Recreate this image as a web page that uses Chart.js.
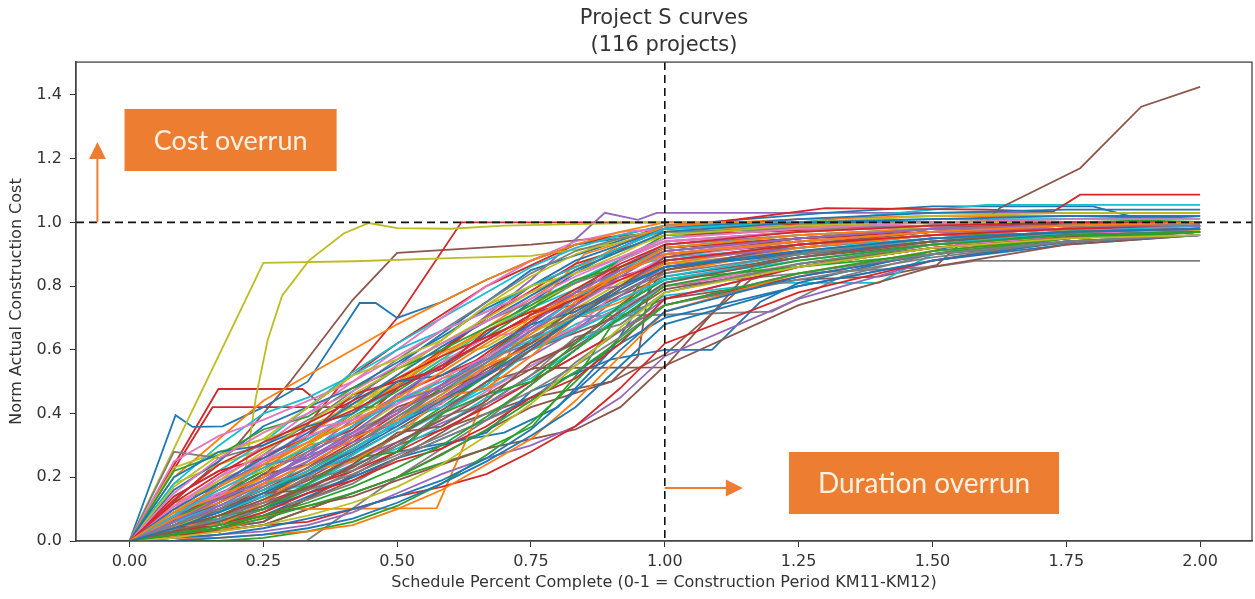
<!DOCTYPE html>
<html><head><meta charset="utf-8">
<script src="https://cdn.jsdelivr.net/npm/chart.js@4.4.1/dist/chart.umd.min.js"></script>
<style>html,body{margin:0;padding:0;background:#fff;overflow:hidden}canvas{display:block}</style>
</head><body>
<canvas id="c" width="1255" height="599"></canvas>
<script>
// ---- tick labels ----
const xTicks = [0, 0.25, 0.5, 0.75, 1.0, 1.25, 1.5, 1.75, 2.0];
const yTicks = [0, 0.2, 0.4, 0.6, 0.8, 1.0, 1.2, 1.4];

// ---- shared monthly schedule grid (fraction of construction period) ----
const gx = [0, 0.083, 0.167, 0.25, 0.333, 0.417, 0.5, 0.583, 0.667, 0.75, 0.833, 0.917, 1.0, 1.25, 1.5, 1.75, 2.0];

// ---- project curves on the shared grid (norm. actual construction cost) ----
const g01 = [0,.04,.09,.15,.21,.28,.36,.44,.52,.61,.70,.79,.86,.91,.95,.97,.98];
const g02 = [0,.09,.17,.24,.31,.37,.45,.53,.62,.70,.77,.84,.90,.94,.97,.99,1.00];
const g03 = [0,.02,.05,.08,.12,.17,.23,.30,.39,.49,.60,.70,.80,.88,.93,.96,.97];
const g04 = [0,.12,.21,.29,.35,.41,.48,.55,.63,.71,.79,.87,.93,.97,.99,1.00,1.00];
const g05 = [0,.06,.13,.19,.25,.33,.40,.49,.57,.66,.74,.83,.91,.95,.98,.99,.99];
const g06 = [0,.03,.06,.11,.17,.23,.31,.38,.46,.54,.63,.72,.81,.89,.94,.97,.98];
const g07 = [0,.15,.26,.34,.40,.47,.55,.62,.69,.76,.83,.89,.95,.98,1.00,1.01,1.01];
const g08 = [0,.05,.10,.17,.23,.30,.39,.47,.56,.64,.71,.78,.84,.90,.95,.97,.98];
const g09 = [0,.01,.03,.05,.08,.12,.17,.24,.33,.43,.55,.67,.78,.86,.92,.95,.96];
const g10 = [0,.08,.16,.23,.29,.36,.44,.50,.57,.63,.70,.76,.82,.88,.93,.97,.99];
const g11 = [0,.10,.18,.26,.34,.43,.52,.61,.69,.77,.85,.91,.97,1.00,1.01,1.02,1.02];
const g12 = [0,.07,.12,.18,.24,.32,.38,.46,.55,.65,.75,.84,.92,.96,.98,.99,1.00];
const g13 = [0,.02,.04,.07,.11,.15,.20,.27,.35,.44,.53,.63,.74,.84,.91,.95,.97];
const g14 = [0,.13,.24,.31,.37,.44,.51,.58,.64,.70,.76,.82,.88,.93,.96,.98,.99];
const g15 = [0,.05,.11,.18,.27,.36,.46,.55,.63,.71,.78,.85,.90,.94,.97,.98,.99];
const g16 = [0,.04,.08,.13,.19,.26,.33,.41,.50,.60,.70,.80,.89,.95,.98,1.00,1.00];
const g17 = [0,.11,.20,.27,.33,.38,.44,.51,.58,.66,.74,.82,.89,.94,.97,.98,.98];
const g18 = [0,.03,.07,.12,.16,.21,.27,.33,.40,.47,.55,.64,.74,.84,.90,.94,.96];
const g19 = [0,.09,.19,.28,.37,.46,.54,.62,.70,.78,.85,.91,.96,.99,1.00,1.00,1.00];
const g20 = [0,.06,.11,.16,.22,.29,.37,.46,.56,.66,.76,.85,.92,.96,.98,.99,1.00];
const g21 = [0,.20,.28,.30,.36,.40,.50,.52,.60,.68,.72,.80,.86,.90,.94,.96,.97];
const g22 = [0,.05,.05,.12,.22,.25,.33,.45,.48,.58,.70,.75,.84,.92,.96,.98,.99];
const g23 = [0,.02,.08,.10,.18,.26,.28,.40,.46,.50,.62,.74,.82,.86,.90,.95,.97];
const g24 = [0,.14,.22,.26,.33,.46,.50,.54,.66,.72,.74,.86,.92,.95,.97,.99,1.00];
const g25 = [0,.07,.18,.24,.26,.34,.44,.48,.56,.68,.78,.80,.88,.92,.96,.98,.98];
const g26 = [0,.03,.10,.15,.16,.24,.34,.36,.44,.56,.62,.74,.85,.93,.97,.99,1.00];
const g27 = [0,.11,.14,.25,.35,.38,.43,.56,.64,.66,.76,.88,.94,.97,.99,1.00,1.00];
const g28 = [0,.04,.07,.13,.20,.22,.30,.39,.43,.52,.64,.68,.78,.87,.93,.96,.97];
const g29 = [0,.17,.27,.32,.42,.52,.57,.63,.74,.80,.84,.90,.97,1.00,1.02,1.03,1.03];
const g30 = [0,.06,.09,.18,.21,.27,.38,.42,.49,.60,.66,.73,.83,.90,.95,.97,.98];
const g31 = [0,.01,.02,.04,.07,.10,.14,.19,.26,.35,.47,.60,.72,.83,.90,.94,.96];
const g32 = [0,.09,.14,.20,.30,.33,.40,.51,.55,.61,.72,.80,.87,.93,.96,.98,.99];
const g33 = [0,.22,.27,.35,.39,.48,.54,.60,.67,.74,.82,.86,.92,.95,.98,.99,1.00];
const g34 = [0,.03,.05,.09,.15,.19,.25,.29,.36,.45,.51,.62,.76,.86,.92,.95,.97];
const g35 = [0,.10,.13,.19,.27,.31,.36,.45,.53,.58,.66,.77,.86,.92,.96,.98,.99];
const g36 = [0,.05,.12,.21,.24,.32,.42,.47,.53,.63,.73,.78,.85,.91,.95,.97,.98];
const g37 = [0,.08,.15,.17,.25,.34,.37,.43,.55,.61,.67,.79,.90,.95,.98,.99,1.00];
const g38 = [0,.02,.06,.10,.13,.18,.26,.32,.38,.44,.56,.66,.74,.82,.89,.94,.96];
const g39 = [0,.12,.18,.22,.30,.39,.45,.48,.57,.66,.70,.79,.87,.93,.97,.99,1.00];
const g40 = [0,.04,.09,.14,.18,.24,.29,.36,.45,.51,.60,.71,.81,.89,.94,.97,.98];
const g41 = [0,0,.01,.02,.04,.07,.12,.18,.25,.33,.42,.55,.68,.80,.88,.94,.96];
const g42 = [0,.01,.01,.02,.03,.05,.10,.16,.24,.32,.44,.58,.72,.84,.91,.95,.97];
const g43 = [0,0,0,.01,.03,.06,.11,.18,.27,.37,.50,.64,.78,.87,.92,.95,.97];
const g44 = [0,.02,.03,.05,.06,.10,.14,.17,.21,.28,.36,.48,.62,.78,.88,.94,.96];
const g45 = [0,0,.02,.03,.05,.09,.15,.21,.26,.30,.36,.45,.58,.76,.88,.95,.97];
const g46 = [0,.03,.05,.08,.11,.14,.19,.24,.29,.32,.35,.42,.55,.74,.86,.93,.96];
const g47 = [0,.25,.33,.38,.44,.50,.58,.66,.72,.78,.84,.89,.94,.97,.99,1.00,1.00];
const g48 = [0,.28,.26,.30,.38,.45,.54,.62,.69,.75,.81,.86,.91,.95,.98,.99,1.00];
const g49 = [0,.23,.28,.32,.36,.42,.50,.58,.66,.74,.81,.86,.92,.96,.98,.99,.99];
const g50 = [0,.18,.30,.40,.45,.52,.60,.66,.72,.80,.86,.92,.98,1.00,1.01,1.01,1.01];
const g51 = [0,.16,.25,.36,.42,.48,.56,.64,.73,.80,.88,.93,.98,1.00,1.00,1.00,1.00];
const g52 = [0,.20,.32,.44,.52,.60,.68,.75,.82,.88,.93,.97,1.00,1.00,1.00,1.00,1.00];
const g53 = [0,.07,.14,.22,.30,.39,.47,.56,.64,.73,.81,.88,.94,.97,.99,1.00,1.01];
const g54 = [0,.05,.10,.16,.23,.31,.40,.49,.59,.69,.78,.86,.92,.95,.97,.98,.98];
const g55 = [0,.09,.15,.20,.26,.33,.41,.49,.58,.67,.76,.84,.91,.95,.97,.98,.99];
const g56 = [0,.03,.08,.14,.21,.29,.37,.45,.54,.62,.70,.77,.83,.89,.93,.96,.97];
const g57 = [0,.11,.19,.25,.31,.37,.43,.49,.55,.61,.67,.73,.80,.86,.92,.96,.98];
const g58 = [0,.06,.13,.21,.28,.34,.41,.47,.54,.62,.71,.80,.88,.93,.96,.98,.99];
const g59 = [0,.04,.10,.17,.25,.34,.43,.51,.58,.65,.73,.81,.87,.91,.94,.96,.97];
const g60 = [0,.08,.17,.25,.32,.40,.48,.57,.66,.73,.79,.85,.89,.92,.95,.97,.98];
const g61 = [0,.06,.12,.19,.27,.36,.45,.55,.65,.75,.84,.92,.98,1.01,1.03,1.04,1.04];
const g62 = [0,.10,.16,.23,.31,.40,.49,.58,.67,.76,.85,.93,.99,1.01,1.02,1.02,1.02];
const g63 = [0,.05,.09,.15,.22,.30,.39,.48,.58,.68,.78,.88,.96,.99,1.00,1.01,1.02];
const g64 = [0,.04,.08,.12,.17,.22,.28,.35,.42,.50,.58,.66,.74,.83,.90,.95,.97];
const g65 = [0,.07,.11,.16,.21,.26,.31,.37,.43,.50,.58,.66,.76,.86,.92,.96,.98];
const g66 = [0,.02,.04,.08,.13,.19,.26,.34,.43,.52,.61,.70,.79,.86,.92,.96,.98];
const g67 = [0,.10,.20,.30,.40,.50,.60,.70,.80,.88,.94,.97,.98,.99,1.00,1.00,1.00];
const g68 = [0,.08,.17,.27,.37,.47,.57,.66,.75,.84,.91,.95,.97,.98,.99,.99,.99];
const g69 = [0,.05,.12,.20,.30,.41,.52,.63,.74,.83,.90,.95,.98,.99,.99,1.00,1.00];
const g70 = [0,.14,.22,.31,.42,.53,.62,.70,.78,.86,.92,.96,.99,1.00,1.00,1.00,1.00];
const g71 = [0,.03,.06,.10,.15,.20,.26,.32,.38,.45,.53,.62,.70,.80,.88,.93,.96];
const g72 = [0,.06,.14,.24,.33,.43,.51,.59,.66,.72,.77,.82,.86,.90,.93,.95,.97];
const g73 = [0,.02,.05,.10,.16,.24,.33,.42,.52,.63,.74,.84,.91,.95,.97,.98,.99];
const g74 = [0,.09,.13,.21,.29,.35,.46,.52,.58,.69,.76,.83,.87,.90,.93,.96,.98];
const g75 = [0,.04,.11,.16,.23,.33,.37,.48,.57,.62,.75,.86,.93,.96,.98,.99,1.00];
const g76 = [0,.12,.17,.27,.32,.40,.49,.54,.63,.71,.76,.84,.90,.94,.97,.98,.99];
const g77 = [0,.07,.10,.14,.19,.25,.31,.38,.47,.55,.63,.72,.80,.87,.92,.95,.97];
const g78 = [0,.01,.04,.09,.15,.22,.30,.40,.50,.60,.71,.80,.88,.93,.96,.98,.99];
const g79 = [0,.18,.24,.29,.35,.43,.48,.57,.61,.69,.79,.85,.93,.96,.98,.99,.99];
const g80 = [0,.05,.07,.11,.18,.27,.35,.40,.49,.60,.68,.74,.82,.89,.94,.97,.98];

const gridSeries = [g01,g02,g03,g04,g05,g06,g07,g08,g09,g10,g11,g12,g13,g14,g15,g16,g17,g18,g19,g20,
  g21,g22,g23,g24,g25,g26,g27,g28,g29,g30,g31,g32,g33,g34,g35,g36,g37,g38,g39,g40,
  g41,g42,g43,g44,g45,g46,g47,g48,g49,g50,g51,g52,g53,g54,g55,g56,g57,g58,g59,g60,
  g61,g62,g63,g64,g65,g66,g67,g68,g69,g70,g71,g72,g73,g74,g75,g76,g77,g78,g79,g80];

// ---- projects with their own reporting dates: [schedule fraction, norm cost] ----
const sOliveA = [[0,0],[0.25,0.873],[0.42,0.878],[0.6,0.888],[0.75,0.895],[0.9,0.93],[1.0,0.97],[1.25,0.98],[1.5,0.98],[2.0,0.975]];
const sOliveB = [[0,0],[0.167,0.02],[0.21,0.15],[0.236,0.45],[0.258,0.63],[0.285,0.77],[0.335,0.88],[0.40,0.965],[0.447,0.998],[0.5,0.982],[0.6,0.98],[0.7,0.99],[1.0,1.0],[1.5,1.0],[2.0,1.0]];
const sBlueSpike = [[0,0],[0.086,0.395],[0.118,0.358],[0.174,0.36],[0.25,0.42],[0.333,0.5],[0.43,0.747],[0.46,0.747],[0.5,0.7],[0.583,0.75],[0.667,0.82],[0.75,0.88],[0.833,0.93],[1.0,0.97],[1.5,0.99],[2.0,0.99]];
const sRed48 = [[0,0],[0.166,0.477],[0.323,0.477],[0.35,0.44],[0.5,0.62],[0.667,0.8],[0.833,0.93],[1.0,0.99],[1.5,1.0],[2.0,1.0]];
const sRed42 = [[0,0],[0.155,0.42],[0.46,0.42],[0.55,0.55],[0.667,0.7],[0.833,0.87],[1.0,0.96],[1.5,0.99],[2.0,1.0]];
const sOrangeFlat = [[0,0],[0.167,0.03],[0.3,0.1],[0.574,0.103],[0.648,0.39],[0.75,0.72],[0.85,0.9],[1.0,0.98],[1.5,0.99],[2.0,0.99]];
const sBrownFlat = [[0,0],[0.25,0.06],[0.5,0.28],[0.6,0.42],[0.667,0.5],[0.76,0.543],[1.0,0.545],[1.17,0.87],[1.25,0.9],[1.5,0.94],[2.0,0.97]];
const sBlueFlat = [[0,0],[0.25,0.08],[0.5,0.26],[0.667,0.34],[0.75,0.47],[0.9,0.57],[1.0,0.6],[1.088,0.6],[1.178,0.75],[1.25,0.81],[1.4,0.87],[1.6,0.95],[2.0,1.0]];
const sGrayFlat = [[0,0],[0.25,0.14],[0.5,0.38],[0.667,0.58],[0.75,0.64],[0.83,0.705],[1.0,0.71],[1.2,0.72],[1.33,0.83],[1.5,0.9],[2.0,0.97]];
const sBrownLate = [[0,0],[0.25,0.05],[0.5,0.2],[0.75,0.42],[0.9,0.5],[1.0,0.585],[1.16,0.82],[1.25,0.86],[1.5,0.93],[2.0,0.98]];
const sGrayLow = [[0,0],[0.25,0.12],[0.5,0.37],[0.75,0.6],[1.0,0.80],[1.25,0.84],[1.5,0.86],[1.58,0.879],[2.0,0.879]];
const sCyanLow = [[0,0],[0.25,0.1],[0.5,0.33],[0.75,0.55],[0.9,0.68],[1.0,0.77],[1.2,0.81],[1.4,0.81],[1.5,0.9],[1.75,0.97],[2.0,0.98]];
const sBrownOver = [[0,0],[0.25,0.12],[0.5,0.35],[0.75,0.6],[1.0,0.76],[1.25,0.82],[1.4,0.83],[1.508,0.866],[1.626,1.045],[1.776,1.17],[1.89,1.363],[2.0,1.425]];
const sRedHigh = [[0,0],[0.25,0.2],[0.5,0.5],[0.75,0.8],[1.0,0.98],[1.3,1.045],[1.6,1.04],[1.725,1.033],[1.776,1.087],[2.0,1.087]];
const sCyanHigh = [[0,0],[0.25,0.15],[0.5,0.45],[0.75,0.75],[1.0,0.95],[1.25,1.0],[1.5,1.04],[1.6,1.055],[2.0,1.055]];
const sBlueHigh = [[0,0],[0.25,0.22],[0.5,0.55],[0.75,0.85],[1.0,0.99],[1.3,1.03],[1.5,1.05],[1.8,1.05],[1.89,1.01],[2.0,1.02]];
const sPurpleHigh = [[0,0],[0.25,0.18],[0.5,0.48],[0.75,0.82],[0.888,1.03],[0.95,1.008],[0.985,1.03],[1.127,1.03],[1.5,1.03],[2.0,1.03]];
const sRedEarly = [[0,0],[0.25,0.2],[0.4,0.5],[0.5,0.7],[0.62,1.0],[2.0,1.0]];
const sBrownEarly = [[0,0],[0.1,0.15],[0.2,0.3],[0.3,0.5],[0.417,0.757],[0.5,0.904],[0.75,0.93],[1.0,0.97],[1.5,0.99],[2.0,0.99]];
const sGrayLate = [[0,0],[0.33,0],[0.5,0.2],[0.667,0.38],[0.833,0.6],[1.0,0.85],[1.25,0.93],[1.5,0.97],[2.0,0.98]];
const sGreenLow = [[0,0],[0.25,0.05],[0.5,0.2],[0.667,0.29],[0.753,0.36],[0.85,0.55],[0.95,0.8],[1.0,0.88],[1.5,0.96],[2.0,0.97]];
const sBlueLow = [[0,0],[0.25,0.06],[0.5,0.28],[0.6,0.31],[0.7,0.34],[0.8,0.42],[0.9,0.6],[1.0,0.86],[1.5,0.95],[2.0,0.97]];
const sBrownSteep = [[0,0],[0.25,0.1],[0.5,0.3],[0.75,0.45],[0.9,0.5],[0.95,0.58],[0.976,0.85],[1.0,0.9],[1.5,0.96],[2.0,0.97]];

const pointSeries = [sOliveA,sOliveB,sBlueSpike,sRed48,sRed42,sOrangeFlat,sBrownFlat,sBlueFlat,sGrayFlat,sBrownLate,
  sGrayLow,sCyanLow,sBrownOver,sRedHigh,sCyanHigh,sBlueHigh,sPurpleHigh,sRedEarly,sBrownEarly,sGrayLate,
  sGreenLow,sBlueLow,sBrownSteep];

// ---- styles ----
const TAB = ['#1f77b4','#ff7f0e','#2ca02c','#d62728','#9467bd','#8c564b','#e377c2','#7f7f7f','#bcbd22','#17becf'];
const pointColors = ['#bcbd22','#bcbd22','#1f77b4','#d62728','#d62728','#ff7f0e','#8c564b','#1f77b4','#7f7f7f','#8c564b',
  '#7f7f7f','#17becf','#8c564b','#d62728','#17becf','#1f77b4','#9467bd','#d62728','#8c564b','#7f7f7f',
  '#2ca02c','#1f77b4','#8c564b'];
const ORANGE = '#ED7D31';

const datasets = [];
gridSeries.forEach((ys, i) => datasets.push({
  data: gx.map((x, j) => ({x: x, y: ys[j]})), borderColor: TAB[i % 10]
}));
pointSeries.forEach((pts, i) => datasets.push({
  data: pts.map(p => ({x: p[0], y: p[1]})), borderColor: pointColors[i]
}));
datasets.forEach(d => Object.assign(d, {borderWidth: 1.8, pointRadius: 0, tension: 0, fill: false}));

const overlay = {
  id: 'overlay',
  afterDatasetsDraw(chart) {
    const {ctx, chartArea: a, scales: {x, y}} = chart;
    const X = v => x.getPixelForValue(v), Y = v => y.getPixelForValue(v);
    ctx.save();
    // reference lines
    ctx.setLineDash([8, 5]);
    ctx.strokeStyle = '#111'; ctx.lineWidth = 1.6;
    ctx.beginPath(); ctx.moveTo(a.left, Y(1)); ctx.lineTo(a.right, Y(1)); ctx.stroke();
    ctx.beginPath(); ctx.moveTo(X(1), a.top); ctx.lineTo(X(1), a.bottom); ctx.stroke();
    ctx.setLineDash([]);
    // frame
    ctx.strokeStyle = '#444'; ctx.lineWidth = 1.3;
    ctx.strokeRect(a.left, a.top, a.right - a.left, a.bottom - a.top);
    // boxes
    const box = (x0, y0, x1, y1, text, size) => {
      const l = X(x0), r = X(x1), t = Y(y0), b = Y(y1);
      ctx.fillStyle = ORANGE; ctx.fillRect(l, t, r - l, b - t);
      ctx.fillStyle = '#fdf1e4';
      ctx.font = size + 'px Lato';
      ctx.textAlign = 'center'; ctx.textBaseline = 'middle';
      ctx.fillText(text, (l + r) / 2, (t + b) / 2 + 1);
    };
    box(-0.0093, 1.356, 0.3869, 1.161, 'Cost overrun', 27);
    box(1.232, 0.2793, 1.7365, 0.0847, 'Duration overrun', 28);
    // arrows
    ctx.strokeStyle = ORANGE; ctx.fillStyle = ORANGE; ctx.lineWidth = 2;
    const ax = X(-0.06), ay0 = Y(1.0), ay1 = Y(1.252);
    ctx.beginPath(); ctx.moveTo(ax, ay0); ctx.lineTo(ax, ay1 + 14); ctx.stroke();
    ctx.beginPath(); ctx.moveTo(ax, ay1); ctx.lineTo(ax - 8.5, ay1 + 17); ctx.lineTo(ax + 8.5, ay1 + 17); ctx.closePath(); ctx.fill();
    const by = Y(0.166), bx0 = X(1.0), bx1 = X(1.1458);
    ctx.beginPath(); ctx.moveTo(bx0, by); ctx.lineTo(bx1 - 14, by); ctx.stroke();
    ctx.beginPath(); ctx.moveTo(bx1, by); ctx.lineTo(bx1 - 17, by - 8.5); ctx.lineTo(bx1 - 17, by + 8.5); ctx.closePath(); ctx.fill();
    ctx.restore();
  }
};

const FONT = 'DejaVu Sans';
new Chart(document.getElementById('c'), {
  type: 'line',
  data: {datasets: datasets},
  plugins: [overlay],
  options: {
    responsive: false, animation: false, devicePixelRatio: 1,
    layout: {padding: {left: 0, right: 3, top: 0, bottom: 0}},
    plugins: {
      legend: {display: false}, tooltip: {enabled: false},
      title: {display: true, fullSize: false, text: ['Project S curves', '(116 projects)'], color: '#333',
        font: {family: FONT, size: 21, weight: 'normal', lineHeight: 1.3}, padding: {top: 4.5, bottom: 3}}
    },
    scales: {
      x: {
        type: 'linear', min: -0.1, max: 2.097,
        afterBuildTicks: s => { s.ticks = xTicks.map(v => ({value: v})); },
        afterFit: s => { s.height = 58; },
        ticks: {callback: v => v.toFixed(2), color: '#333', font: {family: FONT, size: 16}, padding: 5, maxRotation: 0, autoSkip: false},
        grid: {display: true, drawOnChartArea: false, drawTicks: true, tickLength: 6, tickColor: '#333'},
        border: {display: true, color: '#444', width: 1.3},
        title: {display: true, text: 'Schedule Percent Complete (0-1 = Construction Period KM11-KM12)', color: '#333',
          font: {family: FONT, size: 16}, padding: {top: 0, bottom: 7}}
      },
      y: {
        type: 'linear', min: 0, max: 1.503,
        afterBuildTicks: s => { s.ticks = yTicks.map(v => ({value: v})); },
        afterFit: s => { s.width = 76; },
        ticks: {callback: v => v.toFixed(1), color: '#333', font: {family: FONT, size: 16}, padding: 8},
        grid: {display: true, drawOnChartArea: false, drawTicks: true, tickLength: 6, tickColor: '#333'},
        border: {display: true, color: '#444', width: 1.3},
        title: {display: true, text: 'Norm Actual Construction Cost', color: '#333',
          font: {family: FONT, size: 16}, padding: {top: 7, bottom: 0}}
      }
    }
  }
});
</script>
</body></html>
